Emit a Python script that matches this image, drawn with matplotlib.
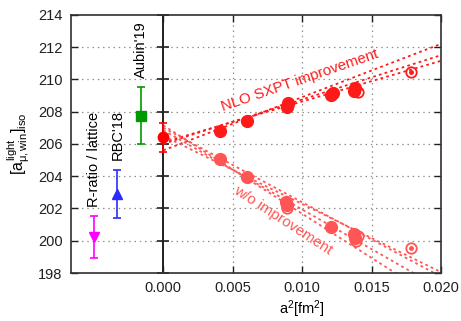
import matplotlib
matplotlib.use("Agg")
import matplotlib.pyplot as plt

plt.rcParams['font.family'] = ['Liberation Sans', 'DejaVu Sans']
plt.rcParams['mathtext.fontset'] = 'custom'
plt.rcParams['mathtext.rm'] = 'Liberation Sans'
plt.rcParams['mathtext.it'] = 'Liberation Sans'
plt.rcParams['mathtext.bf'] = 'Liberation Sans:bold'

# reference values (left side)
ref_names = ["R-ratio / lattice", "RBC'18", "Aubin'19"]
ref_x = [-0.0050, -0.0033, -0.00163]
ref_y = [200.25, 202.9, 207.75]
ref_err = [1.3, 1.47, 1.77]
ref_colors = ["#ff00ff", "#2b2bff", "#009a00"]
ref_markers = ["v", "^", "s"]
ref_label_y = [202.07, 205.0, 210.07]

# continuum value
cont_x = [0.0]
cont_y = [206.4]
cont_err = [0.9]

# NLO SXPT improved data
up_fill_x = [0.00405, 0.0060, 0.0089, 0.0090, 0.0121, 0.0122, 0.0137, 0.0138]
up_fill_y = [206.8, 207.4, 208.3, 208.55, 209.0, 209.15, 209.3, 209.45]
up_open_x = [0.0090, 0.0140, 0.0178]
up_open_y = [208.4, 209.2, 210.45]

# without improvement
lo_fill_x = [0.00405, 0.0060, 0.0088, 0.0089, 0.0121, 0.0137, 0.0138]
lo_fill_y = [205.05, 203.95, 202.4, 202.2, 200.85, 200.4, 200.2]
lo_open_x = [0.0089, 0.0139, 0.0140, 0.0178]
lo_open_y = [202.0, 200.0, 200.3, 199.55]

# fit lines: values at a^2 = 0 and a^2 = 0.02
fit_x = [0.0, 0.020]
up_fit_0 = [205.6, 206.0, 206.1]
up_fit_1 = [212.2, 211.5, 211.15]
lo_fit_0 = [206.5, 207.0, 206.85, 207.15]
lo_fit_1 = [198.05, 197.77, 197.02, 196.19]

x_ticks = [0.000, 0.005, 0.010, 0.015, 0.020]
y_ticks = [198, 200, 202, 204, 206, 208, 210, 212, 214]

up_col = "#ff1a1a"
lo_col = "#ff5555"

fig = plt.figure(figsize=(4.61, 3.21), dpi=100)
ax = fig.add_axes([0.154, 0.1495, 0.803, 0.8045])

ax.set_xlim(-0.00664, 0.020)
ax.set_ylim(198, 214)

# grid
for xt in x_ticks[1:]:
    ax.axvline(xt, color="#909090", lw=0.9, ls=(0, (1.2, 3.0)), zorder=0)
for yt in y_ticks[1:-1]:
    ax.axhline(yt, color="#909090", lw=0.9, ls=(0, (1.2, 3.0)), zorder=0)

# zero axis
ax.axvline(0, color="#202020", lw=1.4, zorder=1)
ax.plot([0] * len(y_ticks), y_ticks, ls="none", marker="_", ms=8, mew=1.2,
        color="#202020", zorder=1, clip_on=False)

# fit lines
for a, b in zip(up_fit_0, up_fit_1):
    ax.plot(fit_x, [a, b], color=up_col, lw=1.3, ls=(0, (1.5, 1.8)), zorder=2)
for a, b in zip(lo_fit_0, lo_fit_1):
    ax.plot(fit_x, [a, b], color=lo_col, lw=1.3, ls=(0, (1.5, 1.8)), zorder=2)

# data
ax.plot(up_fill_x, up_fill_y, ls="none", marker="o", ms=8.5, color=up_col, zorder=3)
ax.plot(up_open_x, up_open_y, ls="none", marker="o", ms=7.5, mfc="none",
        mec=up_col, mew=1.3, zorder=3)
ax.plot(up_open_x, up_open_y, ls="none", marker="o", ms=2.5, color=up_col, zorder=3)
ax.plot(lo_fill_x, lo_fill_y, ls="none", marker="o", ms=8.5, color=lo_col, zorder=3)
ax.plot(lo_open_x, lo_open_y, ls="none", marker="o", ms=7.5, mfc="none",
        mec=lo_col, mew=1.3, zorder=3)
ax.plot(lo_open_x, lo_open_y, ls="none", marker="o", ms=2.5, color=lo_col, zorder=3)

# continuum point
ax.errorbar(cont_x, cont_y, yerr=cont_err, fmt="o", ms=7.5, color="#ff0000",
            ecolor="#ff0000", elinewidth=1.2, capsize=3, capthick=1.2, zorder=4)

# reference points
for x, y, e, c, m, name, ly in zip(ref_x, ref_y, ref_err, ref_colors, ref_markers,
                                    ref_names, ref_label_y):
    ax.errorbar([x], [y], yerr=[e], fmt=m, ms=7, color=c, ecolor=c,
                elinewidth=1.2, capsize=3, capthick=1.2, zorder=4)
    ax.text(x, ly, name, rotation=90, ha="center", va="bottom", fontsize=10.5,
            color="black")

ax.text(0.00983, 209.95, "NLO SXPT improvement", rotation=19, ha="center",
        va="center", fontsize=10.8, color=up_col, rotation_mode="anchor")
ax.text(0.00863, 201.26, "w/o improvement", rotation=-33, ha="center",
        va="center", fontsize=10.8, color=lo_col, rotation_mode="anchor")

ax.set_xticks(x_ticks)
ax.set_xticklabels(["0.000", "0.005", "0.010", "0.015", "0.020"])
ax.set_yticks(y_ticks)
ax.tick_params(direction="in", length=5, width=1, top=True, right=True,
               labelsize=10.5, colors="#202020", pad=6)
for s in ax.spines.values():
    s.set_color("#303030")
    s.set_linewidth(1.2)

ax.set_xlabel(r"a$^2$[fm$^2$]", fontsize=10.5, labelpad=2, x=0.623)
ax.set_ylabel(r"$[a_{\mu,\mathrm{win}}^{\mathrm{light}}]_{\mathrm{iso}}$", fontsize=11.5,
              labelpad=4)

fig.savefig("out.png", dpi=100)
